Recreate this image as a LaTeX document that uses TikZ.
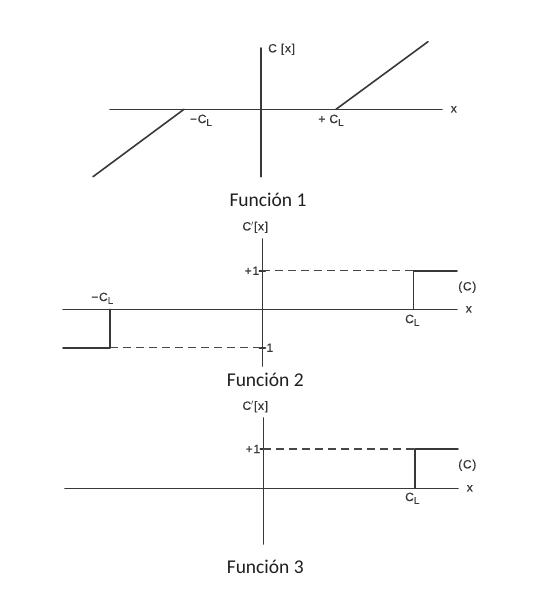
\documentclass[tikz,border=0pt]{standalone}
\usepackage{fontspec}
\setmainfont{Carlito}
\newfontfamily\scanfont[LetterSpace=6,FakeBold=0.6]{Liberation Sans}
\newcommand{\CL}{C\raisebox{-0.45ex}{\fontsize{10}{11}\selectfont L}}
\begin{document}
\begin{tikzpicture}[x=1pt,y=1pt,line join=round,line cap=round,
		axis/.style={draw=black!78,line width=1.6pt},
		guide/.style={draw=black!72,line width=1.4pt,dash pattern=on 8pt off 5pt,line cap=butt},
		lbl/.style={text=black!78,font=\scanfont\fontsize{12}{14}\selectfont,inner sep=1pt},
		caption/.style={text=black!88,font=\fontsize{19.5}{22}\selectfont,inner sep=0pt}]
	\useasboundingbox (0,0) rectangle (536,-595);
	% Funcion 1
	\begin{scope}[shift={(261,-109.3)}]
		\draw[axis] (-151,0)--(181,0)node[lbl,right=7pt]{x};
		\draw[axis] (0,-67.4)--(0,61.3);
		\node[lbl,anchor=west] at (6,60) {C [x]};
		\draw[axis] (-168,-67.4)--(-77,0);
		\draw[axis] (75,0)--(167,67.6);
		\node[lbl] at (-60,-11) {−\CL};
		\node[lbl] at (70,-11) {+ \CL};
		\node[caption] at (7,-91) {Función 1};
	\end{scope}
	% Funcion 2
	\begin{scope}[shift={(262.3,-309.3)}]
		\draw[axis] (-199.3,0)--(194.7,0)node[lbl,right=7pt]{x};
		\draw[axis] (0,-56.7)--(0,70.3);
		\node[lbl] at (-7,82) {C$'$[x]};
		\draw[axis] (-3,38.6)--(3,38.6) (-3,-38.4)--(3,-38.4);
		\draw[guide] (0,38.6)--(151,38.6);
		\draw[axis] (151,0)--(151,38.6)--(194.7,38.6);
		\draw[guide] (-152.3,-38.4)--(0,-38.4);
		\draw[axis] (-199.3,-38.4)--(-152.3,-38.4)--(-152.3,0);
		\node[lbl,anchor=east] at (-2,38.6) {+1};
		\node[lbl,anchor=west] at (3,-38.4) {1};
		\node[lbl] at (205,22) {(C)};
		\node[lbl] at (150,-11) {\CL};
		\node[lbl] at (-160,11) {−\CL};
		\node[caption] at (3,-71) {Función 2};
	\end{scope}
	% Funcion 3
	\begin{scope}[shift={(263.3,-488.3)}]
		\draw[axis] (-198.3,0)--(194.7,0)node[lbl,right=7pt]{x};
		\draw[axis] (0,-55.7)--(0,70.3);
		\node[lbl] at (-8,81.6) {C$'$[x]};
		\draw[axis] (-3,39.3)--(3,39.3);
		\draw[guide] (0,39.3)--(151.7,39.3);
		\draw[axis] (151.7,0)--(151.7,39.3)--(194.7,39.3);
		\node[lbl,anchor=east] at (-2,39.3) {+1};
		\node[lbl] at (204,23) {(C)};
		\node[lbl] at (149,-10) {\CL};
		\node[caption] at (2,-78.4) {Función 3};
	\end{scope}
\end{tikzpicture}
\end{document}
